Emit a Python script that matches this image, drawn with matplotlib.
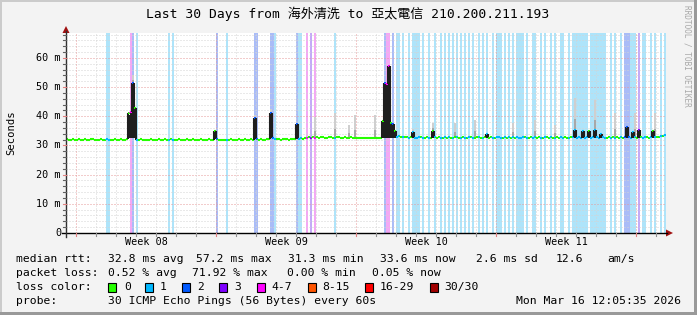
import matplotlib.pyplot as plt
import numpy as np
from matplotlib.collections import LineCollection
from matplotlib.patches import Rectangle, Polygon

plt.rcParams['font.family'] = ['DejaVu Sans Mono', 'Noto Sans CJK TC']

TITLE = "Last 30 Days from 海外清洗 to 亞太電信 210.200.211.193"

# one bin = 0.1 day (2.4 h), 300 bins over the last 30 days
BIN_DAYS = 0.1
median_ms = [
    32.1, 32.0, 31.9, 32.2, 32.0, 31.8, 32.1, 32.0, 31.9, 32.2,
    32.0, 31.9, 32.1, 32.2, 31.9, 32.0, 31.8, 32.1, 32.0, 31.9,
    32.1, 32.0, 31.9, 32.0, 32.2, 31.9, 32.0, 32.1, 31.8, 32.0,
    32.2, 41.0, 41.5, 51.4, 43.0, 32.0, 31.9, 32.1, 32.0, 31.9,
    32.0, 31.9, 32.1, 32.0, 31.8, 32.0, 32.1, 31.9, 32.0, 32.2,
    31.9, 32.0, 32.1, 31.8, 32.0, 31.9, 32.1, 32.0, 31.9, 32.0,
    32.1, 31.9, 32.0, 32.2, 31.8, 32.0, 31.9, 32.1, 32.0, 31.9,
    32.0, 32.1, 31.9, 32.0, 35.0, 32.1, 31.9, 32.0, 31.8, 32.0,
    31.9, 32.0, 32.1, 31.9, 32.0, 31.8, 32.1, 32.0, 31.9, 32.1,
    32.0, 31.9, 32.2, 32.0, 39.4, 32.3, 32.0, 32.1, 31.9, 32.0,
    32.1, 32.2, 41.0, 32.4, 32.3, 32.1, 32.2, 32.0, 32.3, 32.1,
    32.2, 32.0, 32.3, 32.1, 32.2, 37.4, 32.2, 32.4, 32.3, 32.5,
    32.6, 32.8, 32.7, 32.9, 32.6, 32.8, 32.7, 32.9, 32.8, 32.6,
    32.7, 32.9, 32.8, 32.6, 32.7, 32.9, 32.8, 32.7, 32.6, 32.8,
    32.7, 32.6, 32.8, 32.7, 32.5, 32.6, 32.7, 32.5, 32.6, 32.4,
    32.5, 32.6, 32.4, 32.5, 32.6, 32.4, 32.5, 32.6, 38.5, 51.5,
    51.0, 57.2, 37.7, 37.5, 35.0, 33.0, 33.1, 32.9, 33.0, 32.8,
    32.9, 32.7, 32.8, 34.5, 32.6, 32.7, 32.9, 32.8, 32.6, 32.7,
    32.8, 32.6, 32.7, 35.0, 32.9, 32.7, 32.8, 32.6, 32.7, 32.9,
    32.7, 32.8, 32.6, 32.7, 32.9, 32.8, 32.6, 32.7, 32.8, 32.6,
    32.7, 32.9, 32.8, 32.6, 32.7, 32.8, 32.9, 32.6, 32.7, 32.8,
    34.0, 32.6, 32.8, 32.7, 32.6, 32.8, 32.9, 32.7, 32.6, 32.8,
    32.7, 32.8, 32.6, 32.9, 32.7, 32.8, 32.6, 32.7, 32.9, 32.8,
    32.7, 32.6, 32.8, 32.7, 32.9, 32.6, 32.8, 32.7, 32.6, 32.8,
    32.9, 32.7, 32.8, 32.6, 32.7, 32.8, 32.6, 32.9, 32.7, 32.8,
    32.7, 32.6, 32.8, 32.9, 35.3, 32.6, 32.8, 32.7, 34.8, 32.6,
    32.8, 35.0, 32.7, 32.9, 35.2, 32.8, 32.7, 34.0, 32.9, 32.6,
    32.7, 32.8, 32.6, 32.9, 32.7, 32.8, 32.6, 32.9, 32.7, 32.8,
    36.3, 32.8, 32.7, 34.5, 32.9, 32.7, 35.3, 32.8, 32.7, 32.9,
    32.8, 32.7, 32.9, 35.0, 32.8, 33.0, 32.9, 33.2, 33.4, 33.6,
]

# highest ping in the bin where the smoke sticks out above the median
smoke_top = {
    33: 54.3, 94: 40.5, 102: 42.5, 124: 39.8, 134: 41.0, 141: 37.0,
    144: 40.4, 154: 40.4, 173: 35.5, 183: 37.7, 194: 37.7, 204: 38.7,
    223: 37.7, 234: 38.7, 244: 37.0, 254: 46.3, 264: 45.6, 274: 41.0,
    284: 41.0, 294: 41.0,
}

# bins with lost packets, by loss class
loss_1_bins = [20, 21, 35, 51, 53, 80, 104, 116, 117, 134,
               165, 166, 168, 171, 173, 174, 175, 176, 178, 181, 184, 187,
               189, 191, 193, 195, 197, 199, 201, 203, 206, 208, 210, 213,
               215, 216, 217, 219, 221, 223, 225, 226, 227, 228, 230, 233,
               234, 237, 239, 242, 244, 247, 248, 251, 253, 254, 255, 256,
               257, 258, 259, 260, 262, 263, 264, 265, 266, 267, 268, 269,
               272, 274, 277, 282, 283, 284, 288, 289, 292, 294, 297, 299]
loss_2_bins = [33, 75, 94, 95, 102, 103, 115, 159, 163, 279, 280, 281]
loss_3_bins = [122, 286]
loss_4_7_bins = [32, 120, 124, 160, 161]

loss_labels = ["0", "1", "2", "3", "4-7", "8-15", "16-29", "30/30"]
loss_colors = ["#26ff00", "#00b8ff", "#0059ff", "#7e00ff",
               "#ff00ff", "#ff5500", "#ff0000", "#a10000"]
stripe_colors = {1: "#aee4fa", 2: "#aabcf7", 3: "#c4aaf7", 4: "#f4a8f4"}

week_labels = ["Week 08", "Week 09", "Week 10", "Week 11"]
week_centers = [4.0, 11.0, 18.0, 25.0]
week_starts = [0.5, 7.5, 14.5, 21.5, 28.5]
y_ticks = [0, 10, 20, 30, 40, 50, 60]

rtt_stats = ["32.8 ms avg", "57.2 ms max", "31.3 ms min", "33.6 ms now",
             "2.6 ms sd", "12.6", "am/s"]
loss_stats = ["0.52 % avg", "71.92 % max", "0.00 % min", "0.05 % now"]
probe_text = "30 ICMP Echo Pings (56 Bytes) every 60s"
stamp_text = "Mon Mar 16 12:05:35 2026"

Y_TOP = 68.57
X_DAYS = 30

fig = plt.figure(figsize=(6.97, 3.15), dpi=100, facecolor="#f3f3f3")

# ---- plot canvas
ax = fig.add_axes([66 / 697, 82 / 315, 600 / 697, 200 / 315], facecolor="white")
ax.set_xlim(0, X_DAYS)
ax.set_ylim(0, Y_TOP)
for s in ax.spines.values():
    s.set_visible(False)
ax.set_xticks([])
ax.set_yticks([])

level_of = {}
for b in loss_1_bins:
    level_of[b] = 1
for b in loss_2_bins:
    level_of[b] = 2
for b in loss_3_bins:
    level_of[b] = 3
for b in loss_4_7_bins:
    level_of[b] = 4

# loss stripes over the full height
for b, lvl in level_of.items():
    ax.axvspan(b * BIN_DAYS, (b + 1) * BIN_DAYS, color=stripe_colors[lvl],
               lw=0, zorder=1)

# grid
dot = (0, (1, 2))
for y in np.arange(2, Y_TOP, 2):
    if y % 10:
        ax.axhline(y, color="#d4d4d4", lw=0.72, ls=dot, zorder=2)
for y in y_ticks[1:]:
    ax.axhline(y, color="#e69a9a", lw=0.72, ls=dot, zorder=2)
for d in np.arange(0.5, X_DAYS, 1.0):
    if d not in week_starts:
        ax.axvline(d, color="#d4d4d4", lw=0.72, ls=dot, zorder=2)
for d in week_starts:
    ax.axvline(d, color="#e69a9a", lw=0.72, ls=dot, zorder=2)

med = np.array(median_ms)
n = len(med)
x0 = np.arange(n) * BIN_DAYS
base = 32.4

# smoke
for b, top in smoke_top.items():
    ax.fill_between([x0[b], x0[b] + BIN_DAYS], med[b], top,
                    color="#cfcfcf", lw=0, zorder=3)
    ax.fill_between([x0[b], x0[b] + BIN_DAYS], med[b],
                    med[b] + (top - med[b]) * 0.35,
                    color="#a8a8a8", lw=0, zorder=3)
for i in range(n):
    if med[i] > 33.8:
        ax.fill_between([x0[i], x0[i] + BIN_DAYS], base, med[i] - 0.4,
                        color="#1e1e1e", lw=0, zorder=3)


def color_for(i):
    lvl = level_of.get(i, 0)
    return loss_colors[lvl]


segs, cols = [], []
for i in range(n):
    segs.append([(x0[i], med[i]), (x0[i] + BIN_DAYS, med[i])])
    cols.append(color_for(i))
    if i + 1 < n:
        segs.append([(x0[i] + BIN_DAYS, med[i]), (x0[i] + BIN_DAYS, med[i + 1])])
        cols.append("#1e1e1e" if abs(med[i + 1] - med[i]) > 1.0 else color_for(i + 1))
ax.add_collection(LineCollection(segs, colors=cols, linewidths=1.5, zorder=4,
                                 capstyle="butt"))

# ---- overlay in pixel coordinates
ov = fig.add_axes([0, 0, 1, 1], zorder=5)
ov.set_xlim(0, 697)
ov.set_ylim(315, 0)
ov.axis("off")

# 3d frame
ov.add_patch(Rectangle((0, 0), 697, 2, color="#cbcbcb", lw=0))
ov.add_patch(Rectangle((0, 0), 2, 315, color="#cbcbcb", lw=0))
ov.add_patch(Rectangle((0, 312), 697, 3, color="#999999", lw=0))
ov.add_patch(Rectangle((694, 0), 3, 315, color="#999999", lw=0))


def px_x(day):
    return 66 + day * 600 / X_DAYS


def px_y(ms):
    return 233 - ms * 200 / Y_TOP


# axes, ticks and arrows
ov.plot([62, 667], [233, 233], color="black", lw=1.0)
ov.plot([66, 66], [237, 31], color="#303030", lw=1.0)
for d in np.arange(0.5, X_DAYS, 1.0):
    c = "#e08080" if d in week_starts else "#909090"
    ov.plot([px_x(d), px_x(d)], [233, 236], color=c, lw=0.8)
for y in np.arange(2, Y_TOP, 2):
    c = "#e08080" if y % 10 == 0 else "#606060"
    ov.plot([63, 66], [px_y(y), px_y(y)], color=c, lw=0.8)
ov.add_patch(Polygon([[666, 229.5], [673, 233], [666, 236.5]], closed=True,
                     color="#a01010", lw=0))
ov.add_patch(Polygon([[62.5, 33], [66, 26], [69.5, 33]], closed=True,
                     color="#a01010", lw=0))

# texts
ov.text(348, 14, TITLE, ha="center", va="center", fontsize=9.4, color="black")
ov.text(11, 133, "Seconds", rotation=90, ha="center", va="center", fontsize=7.6)
ov.text(687, 5, "RRDTOOL / TOBI OETIKER", rotation=270, ha="center", va="top",
        fontsize=5.6, color="#a8a8a8")
for v in y_ticks:
    lab = "0" if v == 0 else f"{v} m"
    ov.text(61, px_y(v), lab, ha="right", va="center", fontsize=7.3)
for lab, c in zip(week_labels, week_centers):
    ov.text(px_x(c), 242, lab, ha="center", va="center", fontsize=7.3)

fs = 8.2
rows = [259, 273, 287, 301]
ov.text(16, rows[0], "median rtt:", va="center", fontsize=fs)
for txt, x in zip(rtt_stats, [108, 196, 288, 380, 476, 556, 607]):
    ov.text(x, rows[0], txt, va="center", fontsize=fs)
ov.text(16, rows[1], "packet loss:", va="center", fontsize=fs)
for txt, x in zip(loss_stats, [108, 192, 287, 372]):
    ov.text(x, rows[1], txt, va="center", fontsize=fs)
ov.text(16, rows[2], "loss color:", va="center", fontsize=fs)
box_x = [108, 145, 182, 219, 257, 308, 365, 430]
lab_x = [124, 160, 197, 234, 271, 322, 380, 444]
for lab, col, bx, lx in zip(loss_labels, loss_colors, box_x, lab_x):
    ov.add_patch(Rectangle((bx, rows[2] - 4.5), 8, 9, facecolor=col,
                           edgecolor="black", lw=0.8))
    ov.text(lx, rows[2], lab, va="center", fontsize=fs)
ov.text(16, rows[3], "probe:", va="center", fontsize=fs)
ov.text(108, rows[3], probe_text, va="center", fontsize=fs)
ov.text(681, rows[3], stamp_text, ha="right", va="center", fontsize=fs)

fig.savefig("out.png", dpi=100, facecolor=fig.get_facecolor())
